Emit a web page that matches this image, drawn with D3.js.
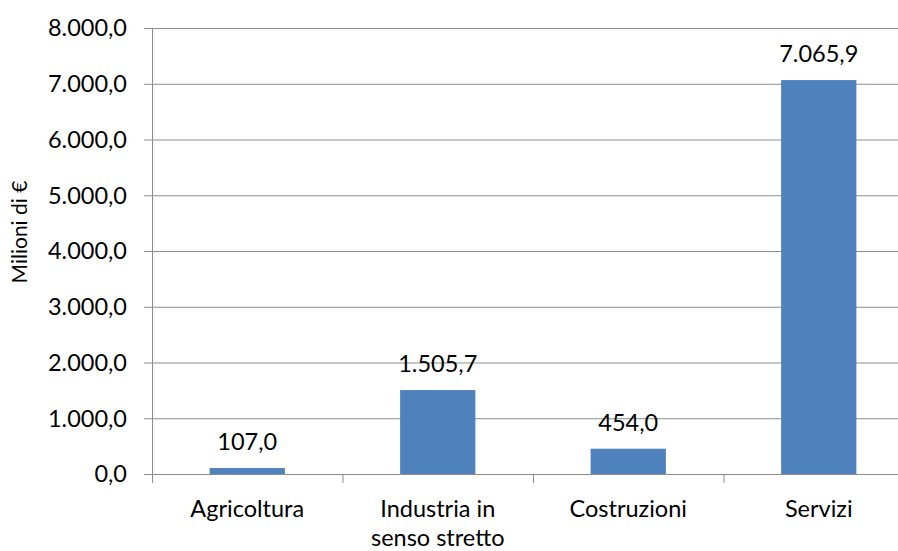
<!DOCTYPE html>
<html>
<head>
<meta charset="utf-8">
<script src="https://cdn.jsdelivr.net/npm/d3@7"></script>
<style>
  body { margin: 0; background: #fff; }
  text { font-family: Lato, "Open Sans", sans-serif; fill: #000; }
</style>
</head>
<body>
<div id="chart"></div>
<script>
// Dati
var categorie = [["Agricoltura"], ["Industria in", "senso stretto"], ["Costruzioni"], ["Servizi"]];
var valori = [107.0, 1505.7, 454.0, 7065.9];
var tickY = [0, 1000, 2000, 3000, 4000, 5000, 6000, 7000, 8000];

// Formato italiano
var it = d3.formatLocale({decimal: ",", thousands: ".", grouping: [3], currency: ["", "€"]});
var fmt = it.format(",.1f");

var margin = {top: 28, right: 0, bottom: 77, left: 152},
    width = 914 - margin.left,
    height = 474 - margin.top;

var svg = d3.select("#chart")
  .append("svg")
    .attr("width", 898)
    .attr("height", 551)
  .append("g")
    .attr("transform", "translate(" + margin.left + "," + margin.top + ")");

var x = d3.scaleBand()
  .domain(d3.range(categorie.length))
  .range([0, width])
  .paddingInner(0.605)
  .paddingOuter(0.3025);

var y = d3.scaleLinear()
  .domain([0, 8000])
  .range([height, 0]);

// griglia
svg.append("g")
  .selectAll("line")
  .data(tickY)
  .enter().append("line")
    .attr("x1", -8)
    .attr("x2", width)
    .attr("y1", function(d) { return y(d) + 0.5; })
    .attr("y2", function(d) { return y(d) + 0.5; })
    .attr("stroke", "#8c8c8c")
    .attr("stroke-width", 1);

// barre
svg.selectAll("rect.bar")
  .data(valori)
  .enter().append("rect")
    .attr("class", "bar")
    .attr("x", function(d, i) { return x(i); })
    .attr("width", x.bandwidth())
    .attr("y", function(d) { return y(d); })
    .attr("height", function(d) { return height - y(d); })
    .attr("fill", "#4f81bd");

// asse Y
svg.append("line")
  .attr("x1", 0.5).attr("x2", 0.5)
  .attr("y1", 0).attr("y2", height)
  .attr("stroke", "#8c8c8c");

svg.append("g")
  .selectAll("text")
  .data(tickY)
  .enter().append("text")
    .attr("x", -25)
    .attr("y", function(d) { return y(d); })
    .attr("dy", "0.36em")
    .attr("text-anchor", "end")
    .style("font-size", "23.5px")
    .text(function(d) { return fmt(d); });

// asse X con tacche tra le categorie
var step = width / categorie.length;
svg.append("g")
  .selectAll("line")
  .data(d3.range(categorie.length + 1))
  .enter().append("line")
    .attr("x1", function(d) { return d * step + 0.5; })
    .attr("x2", function(d) { return d * step + 0.5; })
    .attr("y1", height)
    .attr("y2", height + 9)
    .attr("stroke", "#8c8c8c");

var xl = svg.append("g")
  .selectAll("text")
  .data(categorie)
  .enter().append("text")
    .attr("text-anchor", "middle")
    .attr("transform", function(d, i) { return "translate(" + (x(i) + x.bandwidth() / 2) + "," + (height + 43) + ")"; })
    .style("font-size", "23.5px");
xl.selectAll("tspan")
  .data(function(d) { return d; })
  .enter().append("tspan")
    .attr("x", 0)
    .attr("y", function(d, j) { return j * 29; })
    .text(function(d) { return d; });

// etichette dati
svg.selectAll("text.lab")
  .data(valori)
  .enter().append("text")
    .attr("class", "lab")
    .attr("x", function(d, i) { return x(i) + x.bandwidth() / 2; })
    .attr("y", function(d) { return y(d) - 18; })
    .attr("text-anchor", "middle")
    .style("font-size", "23.5px")
    .text(function(d) { return fmt(d); });

// titolo asse Y
svg.append("text")
  .attr("transform", "translate(" + (-125) + "," + (232 - margin.top) + ") rotate(-90)")
  .attr("text-anchor", "middle")
  .style("font-size", "21px")
  .text("Milioni di €");
</script>
</body>
</html>
